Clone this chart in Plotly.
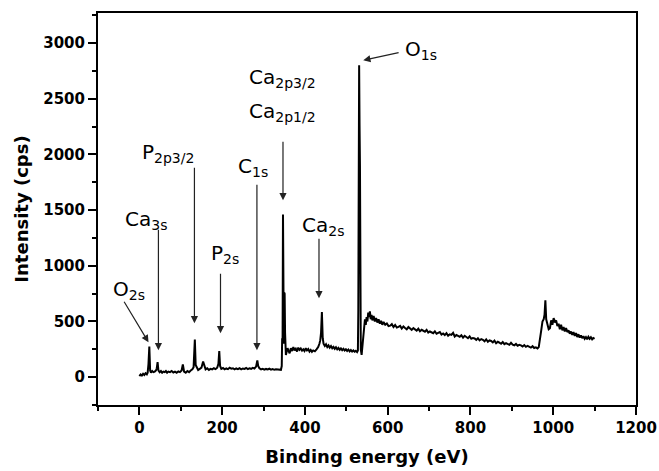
import plotly.graph_objects as go

# Binding energy (eV) and intensity (cps)
energy = [0, 3, 6, 9, 12, 15, 18, 20, 22, 24, 26, 28, 31, 34, 37, 40, 42, 44, 46, 49,
          52, 55, 58, 61, 64, 67, 70, 74, 78, 82, 86, 90, 94, 98, 102, 105, 108, 112, 116, 120,
          124, 128, 131, 134, 136, 139, 142, 146, 150, 154, 157, 160, 164, 168, 172, 176, 180, 184, 188, 191,
          193, 195, 198, 202, 206, 210, 214, 218, 222, 226, 230, 234, 238, 242, 246, 250, 254, 258, 262, 266,
          270, 274, 278, 282, 285, 287, 290, 294, 298, 302, 306, 310, 314, 318, 322, 326, 330, 334, 338, 342,
          344, 345, 346, 347, 348, 349, 350, 351, 352, 354, 356, 358, 360, 363, 366, 369, 372, 375, 378, 381,
          384, 387, 390, 393, 396, 399, 402, 405, 408, 411, 414, 417, 420, 424, 428, 432, 435, 437, 439, 441,
          443, 445, 448, 451, 454, 457, 460, 463, 466, 469, 472, 475, 478, 481, 484, 487, 490, 493, 496, 499,
          502, 505, 508, 511, 514, 517, 520, 523, 526, 528, 529, 530, 531, 532, 533, 534, 535, 537, 539, 541,
          543, 545, 547, 549, 551, 553, 555, 557, 559, 561, 563, 566, 569, 572, 575, 578, 581, 584, 587, 590,
          594, 598, 602, 606, 610, 614, 618, 622, 626, 630, 634, 638, 642, 646, 650, 654, 658, 662, 666, 670,
          674, 678, 682, 686, 690, 694, 698, 702, 706, 710, 714, 718, 722, 726, 730, 734, 738, 742, 746, 750,
          754, 758, 762, 766, 770, 774, 778, 782, 786, 790, 794, 798, 802, 806, 810, 814, 818, 822, 826, 830,
          834, 838, 842, 846, 850, 854, 858, 862, 866, 870, 874, 878, 882, 886, 890, 894, 898, 902, 906, 910,
          914, 918, 922, 926, 930, 934, 938, 942, 946, 950, 954, 958, 962, 965, 968, 971, 974, 977, 979, 981,
          983, 986, 989, 992, 995, 998, 1001, 1004, 1007, 1010, 1013, 1016, 1019, 1022, 1025, 1028, 1031, 1034, 1037, 1040,
          1043, 1046, 1049, 1052, 1055, 1058, 1061, 1064, 1067, 1070, 1073, 1076, 1079, 1082, 1085, 1088, 1091, 1094, 1097, 1100]

intensity = [10, 25, 15, 30, 20, 35, 25, 40, 120, 275, 60, 40, 55, 45, 50, 60, 80, 135, 60, 45,
             55, 40, 50, 45, 55, 40, 50, 45, 55, 42, 50, 40, 52, 45, 60, 115, 50, 40, 55, 45,
             60, 70, 90, 338, 110, 80, 65, 75, 85, 140, 90, 70, 80, 65, 75, 70, 80, 72, 85, 120,
             234, 100, 75, 82, 70, 78, 72, 85, 76, 80, 70, 78, 72, 80, 70, 78, 74, 82, 72, 80,
             75, 84, 78, 95, 150, 100, 80, 70, 75, 68, 74, 70, 76, 68, 72, 66, 70, 68, 72, 66,
             100, 350, 330, 1460, 600, 300, 760, 750, 400, 200, 230, 260, 240, 215, 260, 235, 270, 240, 255, 230,
             265, 245, 258, 238, 250, 235, 260, 240, 252, 230, 245, 228, 240, 232, 250, 270, 300, 330, 400, 585,
             350, 300, 280, 295, 270, 285, 265, 280, 260, 272, 255, 268, 250, 262, 245, 258, 242, 255, 240, 250,
             236, 248, 232, 244, 230, 240, 228, 236, 225, 240, 600, 1920, 2800, 2260, 1900, 700, 250, 200, 280, 350,
             450, 520, 470, 540, 500, 580, 540, 590, 520, 560, 510, 550, 500, 530, 490, 520, 480, 505, 470, 495,
             470, 482, 458, 462, 476, 450, 468, 446, 452, 460, 436, 455, 442, 430, 450, 438, 425, 440, 430, 418,
             435, 412, 425, 415, 408, 425, 400, 410, 402, 395, 412, 390, 398, 405, 382, 392, 378, 395, 372, 385,
             380, 398, 365, 378, 370, 362, 376, 355, 372, 360, 350, 366, 345, 352, 348, 335, 350, 330, 342, 335,
             322, 340, 318, 330, 325, 312, 328, 305, 318, 310, 300, 315, 296, 305, 300, 290, 308, 292, 286, 298,
             282, 290, 285, 276, 288, 272, 280, 270, 265, 278, 262, 268, 258, 270, 330, 420, 500, 520, 560, 690,
             520, 470, 430, 440, 510, 470, 530, 490, 510, 460, 480, 430, 470, 420, 450, 410, 440, 405, 420, 390,
             410, 380, 405, 370, 395, 360, 385, 355, 375, 350, 368, 345, 360, 340, 362, 345, 358, 340, 352, 345]

x_ticks = [0, 200, 400, 600, 800, 1000, 1200]
y_ticks = [0, 500, 1000, 1500, 2000, 2500, 3000]

# Peak labels and their arrows (tail -> tip), in data coordinates
labels = ["O<sub>2s</sub>", "Ca<sub>3s</sub>", "P<sub>2p3/2</sub>", "P<sub>2s</sub>", "C<sub>1s</sub>",
          "Ca<sub>2p3/2</sub>", "Ca<sub>2p1/2</sub>", "Ca<sub>2s</sub>", "O<sub>1s</sub>"]
label_x = [-24, 15, 68, 208, 274, 347, 347, 444, 681]
label_y = [781, 1409, 2011, 1104, 1885, 2684, 2379, 1355, 2935]

arrow_tail_x = [-39, 46, 133, 196, 284, 347, 434, 630]
arrow_tail_y = [691, 1338, 1894, 943, 1741, 2127, 1257, 2917]
arrow_tip_x = [22, 46, 133, 196, 284, 347, 434, 541]
arrow_tip_y = [314, 242, 485, 395, 242, 1589, 709, 2846]

fig = go.Figure()
fig.add_trace(go.Scatter(x=energy, y=intensity, mode="lines",
                         line=dict(color="black", width=2), showlegend=False))

font_bold = dict(family="DejaVu Sans", size=15, color="black", weight="bold")

for t, lx, ly in zip(labels, label_x, label_y):
    fig.add_annotation(x=lx, y=ly, xref="x", yref="y", text=t, showarrow=False,
                       font=dict(family="DejaVu Sans", size=20, color="black"),
                       xanchor="center", yanchor="middle")

for tx, ty, hx, hy in zip(arrow_tail_x, arrow_tail_y, arrow_tip_x, arrow_tip_y):
    fig.add_annotation(x=hx, y=hy, ax=tx, ay=ty, xref="x", yref="y", axref="x", ayref="y",
                       text="", showarrow=True, arrowhead=2, arrowsize=1.2, arrowwidth=1.2,
                       arrowcolor="#222222", standoff=0, startstandoff=0)

axis_common = dict(showline=True, linecolor="black", linewidth=2, mirror=True,
                   ticks="outside", ticklen=8, tickwidth=2, tickcolor="black",
                   showgrid=False, zeroline=False, tickfont=font_bold, automargin=False)

fig.update_xaxes(range=[-100, 1200], tickvals=x_ticks,
                 minor=dict(dtick=100, tick0=0, ticklen=4, tickwidth=2, ticks="outside", tickcolor="black"),
                 title=dict(text="Binding energy (eV)", standoff=14,
                            font=dict(family="DejaVu Sans", size=18, color="black", weight="bold")),
                 **axis_common)
fig.update_yaxes(range=[-250, 3270], tickvals=y_ticks,
                 minor=dict(dtick=250, tick0=0, ticklen=4, tickwidth=2, ticks="outside", tickcolor="black"),
                 title=dict(text="Intensity (cps)", standoff=10,
                            font=dict(family="DejaVu Sans", size=18, color="black", weight="bold")),
                 **axis_common)

fig.update_layout(width=659, height=471, margin=dict(l=98, r=23, t=13, b=66),
                  plot_bgcolor="white", paper_bgcolor="white")

fig.write_html("out.html")
